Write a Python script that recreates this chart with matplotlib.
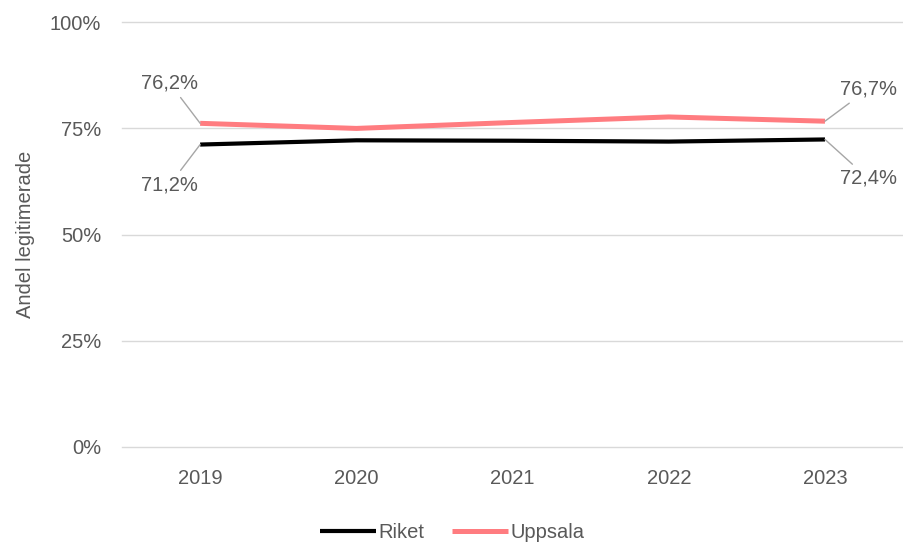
import matplotlib.pyplot as plt
from matplotlib.ticker import FuncFormatter

years = ["2019", "2020", "2021", "2022", "2023"]
riket = [71.2, 72.2, 72.1, 71.9, 72.4]
uppsala = [76.2, 75.0, 76.4, 77.7, 76.7]
yticks = [0, 25, 50, 75, 100]

plt.rcParams["font.family"] = ["Liberation Sans", "DejaVu Sans"]
textColor = "#595959"
gridColor = "#d9d9d9"
fs = 14.5

fig = plt.figure(figsize=(9.04, 5.43), dpi=100)
ax = fig.add_axes([0.135, 0.177, 0.864, 0.782])

x = list(range(len(years)))
ax.plot(x, riket, color="black", lw=3.0, label="Riket", solid_capstyle="butt", zorder=3)
ax.plot(x, uppsala, color="#ff7c80", lw=3.6, label="Uppsala", solid_capstyle="butt", zorder=3)

ax.set_xlim(-0.5, len(years) - 0.5)
ax.set_ylim(0, 100)
ax.set_xticks(x)
ax.set_xticklabels(years)
ax.set_yticks(yticks)
ax.yaxis.set_major_formatter(FuncFormatter(lambda v, p: f"{int(v)}%"))
ax.grid(axis="y", color=gridColor, lw=1)
for gl in ax.get_ygridlines():
    gl.set_clip_on(False)
ax.set_axisbelow(True)
for s in ax.spines.values():
    s.set_visible(False)
ax.tick_params(axis="both", length=0, labelsize=fs, colors=textColor)
ax.tick_params(axis="y", pad=15)
ax.tick_params(axis="x", pad=16)
ax.set_ylabel("Andel legitimerade", fontsize=fs, color=textColor, labelpad=11)


def fmt(v):
    return f"{v:.1f}%".replace(".", ",")


leader = dict(arrowstyle="-", color="#a6a6a6", lw=1, shrinkA=2, shrinkB=0)
labels = [
    (0, uppsala[0], (-22, 29)),
    (0, riket[0], (-22, -29)),
    (4, uppsala[4], (31, 23)),
    (4, riket[4], (31, -28)),
]
for xi, v, off in labels:
    ax.annotate(fmt(v), (xi, v), xytext=off, textcoords="offset points",
                ha="center", va="center", fontsize=fs, color=textColor,
                arrowprops=leader, annotation_clip=False)

fig.legend(loc="lower center", bbox_to_anchor=(0.5, -0.032), ncol=2, frameon=False,
           fontsize=fs, labelcolor=textColor, handlelength=2.8, handletextpad=0.1,
           columnspacing=1.4)

fig.savefig("out.png", dpi=100)
